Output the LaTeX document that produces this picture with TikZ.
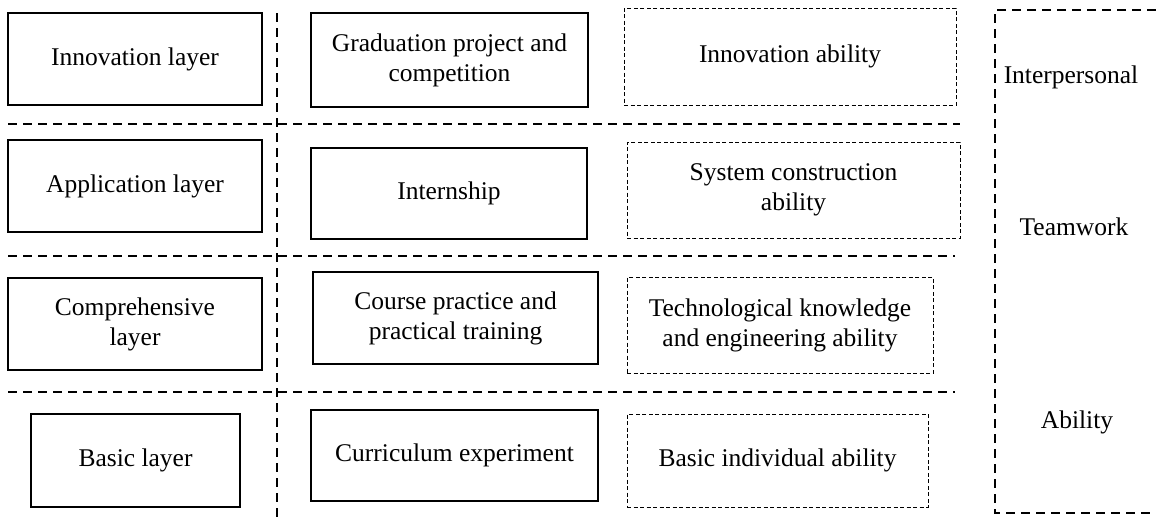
\documentclass[tikz,border=0pt]{standalone}
\usepackage{fontspec}
\setmainfont{Liberation Serif}
\usepackage{tikz}
\usetikzlibrary{positioning}

\begin{document}
\begin{tikzpicture}[
    x=1pt, y=-1pt,
    every node/.style={font=\fontsize{25.5}{30}\selectfont},
    layer/.style={rectangle, draw, line width=1.2pt, align=center, minimum height=92pt},
    practice/.style={rectangle, draw, line width=1.2pt, align=center, minimum height=92pt},
    ability/.style={rectangle, draw, dash pattern=on 4pt off 2.5pt, line width=1pt, align=center, minimum height=95pt},
    divider/.style={dash pattern=on 9pt off 6pt, line width=2.6pt},
    quality/.style={align=center}
]
    \useasboundingbox (0,0) rectangle (1156,520);

    % Layers (left)
    \node[layer, minimum width=254pt] (innov) at (135,59) {Innovation layer};
    \node[layer, minimum width=254pt] (appl) at (135,186) {Application layer};
    \node[layer, minimum width=254pt] (compr) at (135,324) {Comprehensive\\layer};
    \node[layer, minimum width=209pt, minimum height=93pt] (basic) at (135.5,460.5) {Basic layer};

    % Practice (middle)
    \node[practice, minimum width=277pt, minimum height=94pt] (grad) at (449.5,60) {Graduation project and\\competition};
    \node[practice, minimum width=276pt, minimum height=91pt] (intern) at (449,193.5) {Internship};
    \node[practice, minimum width=285pt] (course) at (455.5,318) {Course practice and\\practical training};
    \node[practice, minimum width=287pt, minimum height=91pt] (curric) at (454.5,455.5) {Curriculum experiment};

    % Abilities (right)
    \node[ability, minimum width=332pt, minimum height=97pt] (innovab) at (790,56.5) {Innovation ability};
    \node[ability, minimum width=333pt, minimum height=96pt] (sysab) at (793.5,190) {System construction\\ability};
    \node[ability, minimum width=306pt, minimum height=96pt] (techab) at (780,325) {Technological knowledge\\and engineering ability};
    \node[ability, minimum width=301pt, minimum height=93pt] (basicab) at (777.5,460.5) {Basic individual ability};

    % Dividers
    \coordinate (vtop) at (277,13);
    \coordinate (vbot) at (277,520);
    \coordinate (h1l) at (8,124);
    \coordinate (h1r) at (960,124);
    \coordinate (h2l) at (8,256);
    \coordinate (h2r) at (955,256);
    \coordinate (h3l) at (8,392);
    \coordinate (h3r) at (955,392);
    \draw[divider] (vtop) -- (vbot);
    \draw[divider] (h1l) -- (h1r);
    \draw[divider] (h2l) -- (h2r);
    \draw[divider] (h3l) -- (h3r);

    % Quality frame
    \coordinate (ftr) at (1156,10);
    \coordinate (ftl) at (995,10);
    \coordinate (fbl) at (995,513);
    \coordinate (fbr) at (1156,513);
    \draw[divider] (ftr) -- (ftl) -- (fbl) -- (fbr);

    \node[quality] (inter) at (1071,77) {Interpersonal};
    \node[quality] (team) at (1074,227) {Teamwork};
    \node[quality] (abil) at (1077,422) {Ability};

\end{tikzpicture}
\end{document}
